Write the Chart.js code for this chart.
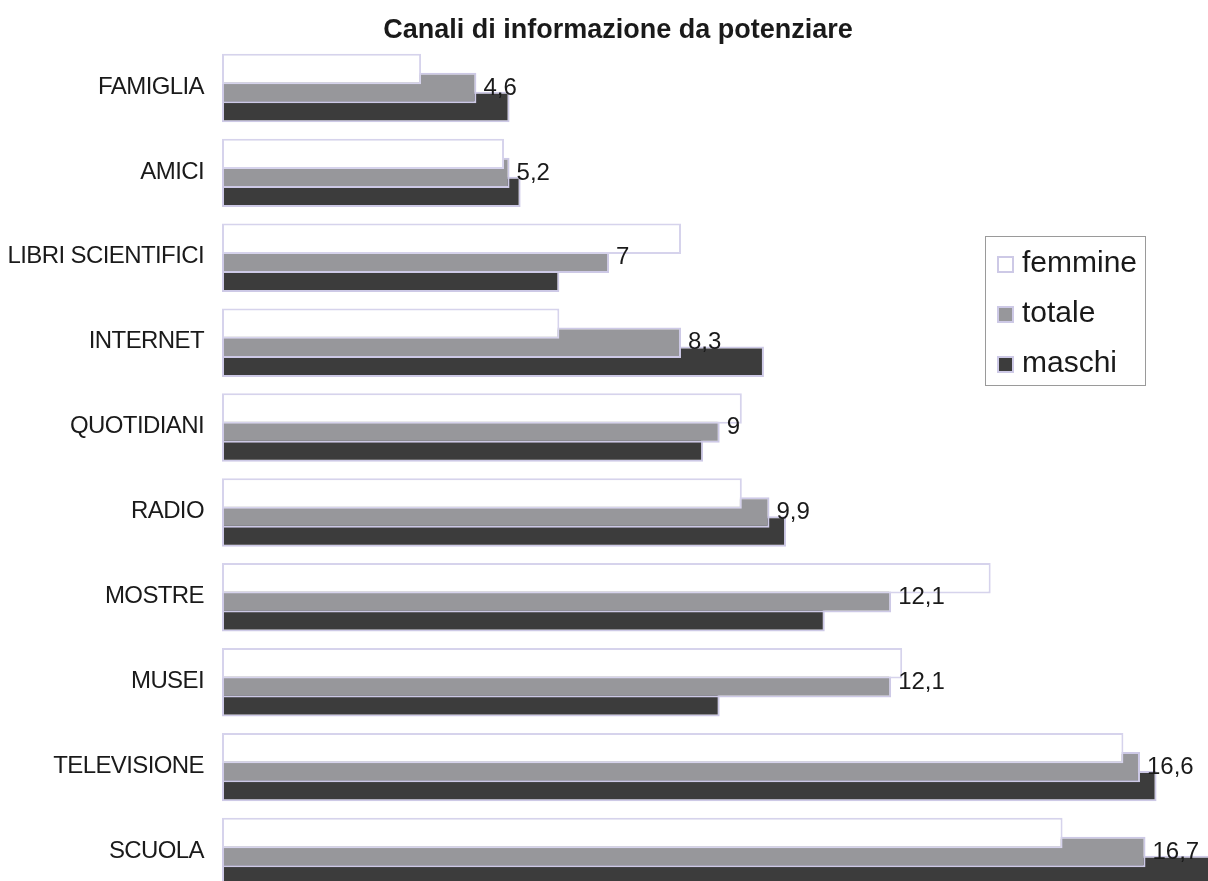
<!DOCTYPE html>
<html lang="it">
<head>
    <meta charset="UTF-8">
    <title>Canali di informazione da potenziare</title>
    <script src="https://cdn.jsdelivr.net/npm/chart.js"></script>
    <style>
        html, body { margin: 0; padding: 0; background: #fff; }
        .wrap { width: 1208px; height: 881px; }
    </style>
</head>
<body>
    <div class="wrap">
        <canvas id="chart" width="1208" height="881"></canvas>
    </div>

    <script>
        // data
        const categories = ['FAMIGLIA', 'AMICI', 'LIBRI SCIENTIFICI', 'INTERNET', 'QUOTIDIANI',
            'RADIO', 'MOSTRE', 'MUSEI', 'TELEVISIONE', 'SCUOLA'];
        const femmine = [3.6, 5.1, 8.3, 6.1, 9.4, 9.4, 13.9, 12.3, 16.3, 15.2];
        const totale  = [4.6, 5.2, 7, 8.3, 9, 9.9, 12.1, 12.1, 16.6, 16.7];
        const maschi  = [5.2, 5.4, 6.1, 9.8, 8.7, 10.2, 10.9, 9.0, 16.9, 18.0];

        const FONT = '"Liberation Sans", Arial, sans-serif';
        const TEXT = '#1a1a1a';
        const EDGE = '#cdc9e6';

        // title, category names, value labels of "totale" and the legend box
        const decorations = {
            id: 'decorations',
            afterDatasetsDraw(chart) {
                const ctx = chart.ctx;
                const yScale = chart.scales.y;

                ctx.save();
                ctx.fillStyle = TEXT;

                // title
                ctx.font = 'bold 27px ' + FONT;
                ctx.textAlign = 'center';
                ctx.textBaseline = 'alphabetic';
                ctx.fillText('Canali di informazione da potenziare', 618, 38);

                // category labels
                ctx.font = '24px ' + FONT;
                ctx.letterSpacing = '-0.6px';
                ctx.textAlign = 'right';
                ctx.textBaseline = 'middle';
                categories.forEach((c, i) => {
                    ctx.fillText(c, 204, yScale.getPixelForValue(i) - 1);
                });
                ctx.letterSpacing = '0px';

                // values on the totale bars
                const meta = chart.getDatasetMeta(1);
                ctx.textAlign = 'left';
                meta.data.forEach((bar, i) => {
                    const txt = String(totale[i]).replace('.', ',');
                    ctx.fillText(txt, bar.x + 7, bar.y);
                });

                // legend
                ctx.strokeStyle = '#9a9a9a';
                ctx.lineWidth = 1;
                ctx.strokeRect(985.5, 236.5, 160, 149);
                ctx.font = '30px ' + FONT;
                chart.data.datasets.forEach((ds, i) => {
                    const cy = 264 + i * 50;
                    ctx.fillStyle = ds.backgroundColor;
                    ctx.fillRect(997, cy - 8, 17, 17);
                    ctx.strokeStyle = EDGE;
                    ctx.lineWidth = 2;
                    ctx.strokeRect(998, cy - 7, 15, 15);
                    ctx.fillStyle = TEXT;
                    ctx.fillText(ds.label, 1022, cy);
                });
                ctx.restore();
            }
        };

        const ctx = document.getElementById('chart').getContext('2d');
        const chart = new Chart(ctx, {
            type: 'bar',
            data: {
                labels: categories,
                datasets: [
                    { label: 'femmine', data: femmine, backgroundColor: '#ffffff', borderColor: '#d6d3ec' },
                    { label: 'totale', data: totale, backgroundColor: '#97979b', borderColor: EDGE },
                    { label: 'maschi', data: maschi, backgroundColor: '#3c3c3c', borderColor: EDGE }
                ]
            },
            options: {
                indexAxis: 'y',
                responsive: false,
                animation: false,
                layout: { padding: { top: 88, bottom: 29, left: 0, right: 0 } },
                datasets: {
                    bar: {
                        borderWidth: 2,
                        borderSkipped: false,
                        categoryPercentage: 0.672,
                        barPercentage: 1.6,
                        clip: false
                    }
                },
                scales: {
                    x: {
                        display: false,
                        min: 0,
                        max: 17.83
                    },
                    y: {
                        offset: false,
                        grid: { display: false },
                        border: { display: false },
                        ticks: { display: false },
                        afterFit: (s) => { s.width = 222; }
                    }
                },
                plugins: {
                    legend: { display: false },
                    title: { display: false },
                    tooltip: { enabled: false }
                }
            },
            plugins: [decorations]
        });
    </script>
</body>
</html>
